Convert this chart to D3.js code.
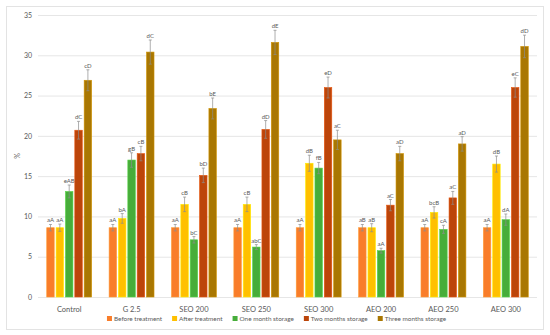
<!DOCTYPE html>
<html>
<head>
<meta charset="utf-8">
<script src="https://cdn.jsdelivr.net/npm/d3@7"></script>
<style>
  body { margin: 0; background: #fff; }
  svg text { font-family: Lato, "Open Sans", sans-serif; fill: #595959; }
</style>
</head>
<body>
<svg id="chart" width="550" height="335"></svg>
<script>
var categories = ["Control", "G 2.5", "SEO 200", "SEO 250", "SEO 300", "AEO 200", "AEO 250", "AEO 300"];
var seriesNames = ["Before treatment", "After treatment", "One month storage", "Two months storage", "Three months storage"];
var colors = ["#F97D2A", "#FFC000", "#47AD3A", "#BC450A", "#A97702"];
var yTicks = [0, 5, 10, 15, 20, 25, 30, 35];

var beforeVals = [8.6, 8.6, 8.6, 8.6, 8.6, 8.6, 8.6, 8.6];
var afterVals  = [8.6, 9.75, 11.5, 11.5, 16.6, 8.6, 10.5, 16.5];
var oneVals    = [13.1, 17.0, 7.1, 6.2, 16.0, 5.75, 8.4, 9.6];
var twoVals    = [20.7, 17.8, 15.1, 20.8, 26.0, 11.4, 12.3, 26.0];
var threeVals  = [26.9, 30.4, 23.4, 31.6, 19.5, 17.8, 19.0, 31.1];

var beforeErr = [0.4, 0.4, 0.4, 0.4, 0.4, 0.4, 0.4, 0.4];
var afterErr  = [0.45, 0.6, 0.9, 0.9, 1.0, 0.5, 0.7, 1.0];
var oneErr    = [0.8, 0.9, 0.4, 0.3, 0.7, 0.3, 0.5, 0.7];
var twoErr    = [1.1, 0.9, 0.9, 1.1, 1.3, 0.7, 0.8, 1.2];
var threeErr  = [1.3, 1.5, 1.3, 1.5, 1.2, 0.9, 0.9, 1.4];

var beforeLbl = ["aA", "aA", "aA", "aA", "aA", "aB", "aA", "aA"];
var afterLbl  = ["aA", "bA", "cB", "cB", "dB", "aB", "bcB", "dB"];
var oneLbl    = ["eAB", "gB", "bC", "abC", "fB", "aA", "cA", "dA"];
var twoLbl    = ["dC", "cB", "bD", "dD", "eD", "aC", "aC", "eC"];
var threeLbl  = ["cD", "dC", "bE", "dE", "aC", "aD", "aD", "dD"];

var allVals = [beforeVals, afterVals, oneVals, twoVals, threeVals];
var allErr = [beforeErr, afterErr, oneErr, twoErr, threeErr];
var allLbl = [beforeLbl, afterLbl, oneLbl, twoLbl, threeLbl];

var svg = d3.select("#chart");
var margin = {top: 15, right: 13, bottom: 38, left: 38};
var width = 550 - margin.left - margin.right;
var height = 335 - margin.top - margin.bottom;

// chart frame
svg.append("rect")
    .attr("x", 6.5).attr("y", 6.5)
    .attr("width", 537).attr("height", 323)
    .attr("fill", "#fff")
    .attr("stroke", "#E3E3E3")
    .attr("stroke-width", 1);

var g = svg.append("g").attr("transform", "translate(" + margin.left + "," + margin.top + ")");

var y = d3.scaleLinear().domain([0, 35]).range([height, 0]);
var x0 = d3.scaleBand().domain(categories).range([0, width]).paddingInner(0.28).paddingOuter(0.14);
var x1 = d3.scaleBand().domain(d3.range(5)).range([0, x0.bandwidth()]).paddingInner(0.2);

// grid + y labels
g.append("g")
    .call(d3.axisLeft(y).tickValues(yTicks).tickSize(-width).tickPadding(6))
    .call(function(a) {
      a.select(".domain").remove();
      a.selectAll(".tick line").attr("stroke", "#E6E6E6");
      a.selectAll(".tick text").attr("font-size", 7).style("fill", "#595959");
    });

g.append("text")
    .attr("transform", "translate(-18," + (height / 2) + ") rotate(-90)")
    .attr("text-anchor", "middle")
    .attr("font-size", 7)
    .text("%");

// category axis
g.append("g")
    .attr("transform", "translate(0," + height + ")")
    .call(d3.axisBottom(x0).tickSize(0).tickPadding(10))
    .call(function(a) {
      a.select(".domain").remove();
      a.selectAll(".tick text").attr("font-size", 7.5).style("fill", "#595959");
    });

var rows = [];
categories.forEach(function(c, i) {
  for (var s = 0; s < 5; s++) {
    rows.push({cat: c, s: s, v: allVals[s][i], e: allErr[s][i], lbl: allLbl[s][i]});
  }
});

var bars = g.selectAll(".bar").data(rows).enter().append("g").attr("class", "bar")
    .attr("transform", function(d) { return "translate(" + (x0(d.cat) + x1(d.s)) + ",0)"; });

bars.append("rect")
    .attr("x", 0)
    .attr("y", function(d) { return y(d.v); })
    .attr("width", x1.bandwidth())
    .attr("height", function(d) { return y(0) - y(d.v); })
    .attr("fill", function(d) { return colors[d.s]; })
    .attr("stroke", function(d) { return d3.color(colors[d.s]).brighter(0.6); })
    .attr("stroke-width", 0.6);

var cx = x1.bandwidth() / 2;
bars.append("line")
    .attr("x1", cx).attr("x2", cx)
    .attr("y1", function(d) { return y(d.v + d.e); })
    .attr("y2", function(d) { return y(d.v - d.e); })
    .attr("stroke", "#8C8C8C").attr("stroke-width", 0.7);
bars.append("line")
    .attr("x1", cx - 1.5).attr("x2", cx + 1.5)
    .attr("y1", function(d) { return y(d.v + d.e); })
    .attr("y2", function(d) { return y(d.v + d.e); })
    .attr("stroke", "#8C8C8C").attr("stroke-width", 0.7);
bars.append("line")
    .attr("x1", cx - 1.5).attr("x2", cx + 1.5)
    .attr("y1", function(d) { return y(d.v - d.e); })
    .attr("y2", function(d) { return y(d.v - d.e); })
    .attr("stroke", "#8C8C8C").attr("stroke-width", 0.7);

bars.append("text")
    .attr("x", cx)
    .attr("y", function(d) { return y(d.v + d.e) - 2; })
    .attr("text-anchor", "middle")
    .attr("font-size", 6)
    .text(function(d) { return d.lbl; });

// legend
var legend = svg.append("g").attr("transform", "translate(0,320)");
var items = legend.selectAll(".item").data(seriesNames).enter().append("g").attr("class", "item");
items.append("rect")
    .attr("width", 5).attr("height", 5).attr("y", -4)
    .attr("fill", function(d, i) { return colors[i]; });
items.append("text")
    .attr("x", 7).attr("y", 0.5)
    .attr("font-size", 6.4)
    .text(function(d) { return d; });

function placeLegend() {
  var gap = 10, pos = 0, offs = [];
  items.each(function() {
    offs.push(pos);
    pos += 7 + d3.select(this).select("text").node().getComputedTextLength() + gap;
  });
  pos -= gap;
  var startX = 276.5 - pos / 2;
  items.attr("transform", function(d, i) { return "translate(" + (startX + offs[i]) + ",0)"; });
}
placeLegend();
if (document.fonts) document.fonts.ready.then(placeLegend);
</script>
</body>
</html>
